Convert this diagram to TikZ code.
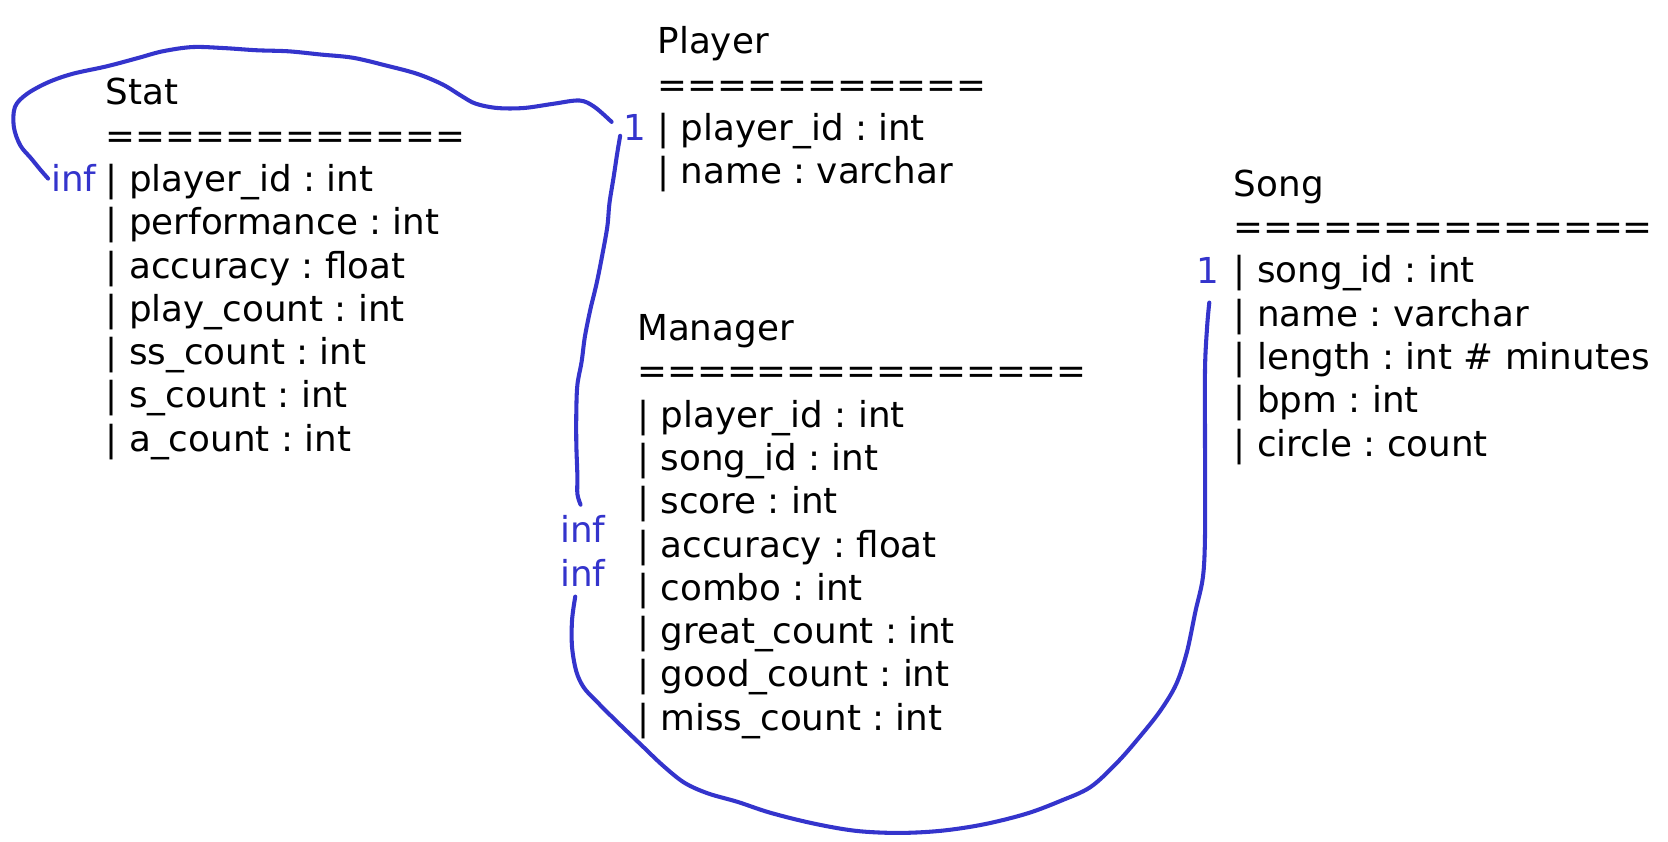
\documentclass[tikz,border=0pt]{standalone}
\usepackage{fontspec}
\setmainfont{DejaVu Sans}
\definecolor{linkblue}{RGB}{52,52,204}
\begin{document}
\begin{tikzpicture}[x=0.5pt,y=-0.5pt,
  tbl/.style={anchor=base west,inner sep=0pt,outer sep=0pt,align=left,
    font=\fontsize{16.7}{20.25}\selectfont\frenchspacing},
  card/.style={anchor=base west,inner sep=0pt,outer sep=0pt,text=linkblue,
    font=\fontsize{16.7}{20.25}\selectfont},
  link/.style={draw=linkblue,line width=1.9pt,line cap=round,line join=round}]
\useasboundingbox (0,0) rectangle (1560,787);

\node[tbl] (stat) at (99,98) {\begin{tabular}[t]{@{}l@{}}
Stat\\
============\\
| player\_id : int\\
| performance : int\\
| accuracy : float\\
| play\_count : int\\
| ss\_count : int\\
| s\_count : int\\
| a\_count : int
\end{tabular}};

\node[tbl] (player) at (615,50.5) {\begin{tabular}[t]{@{}l@{}}
Player\\
===========\\
| player\_id : int\\
| name : varchar
\end{tabular}};

\node[tbl] (song) at (1154,183.5) {\begin{tabular}[t]{@{}l@{}}
Song\\
==============\\
| song\_id : int\\
| name : varchar\\
| length : int \# minutes\\
| bpm : int\\
| circle : count
\end{tabular}};

\node[tbl] (manager) at (596,318.5) {\begin{tabular}[t]{@{}l@{}}
Manager\\
===============\\
| player\_id : int\\
| song\_id : int\\
| score : int\\
| accuracy : float\\
| combo : int\\
| great\_count : int\\
| good\_count : int\\
| miss\_count : int
\end{tabular}};

\node[card] (statinf) at (48,179) {inf};
\node[card] (player1) at (583,131.5) {1};
\node[card] (song1) at (1119,265) {1};
\node[card] (maninfa) at (524,507.5) {inf};
\node[card] (maninfb) at (524,548.5) {inf};

\draw[link] plot[smooth,tension=0.55] coordinates {
  ([shift={(-3,-12)}]statinf.base west) (38,159) (29,148) (19,136) (13,119) (14,100)
  (25,88) (45,77) (68,69) (100,62) (130,54) (152,48) (180,44) (210,45)
  (240,47) (270,48) (300,51) (330,54) (360,61) (390,69) (414,79) (432,90)
  (445,97) (465,101) (490,101) (518,97) (542,94) (556,100) (572,114)};

\draw[link] plot[smooth,tension=0.55] coordinates {
  (580,127) (577,145) (574,165) (570,190) (568,212) (563,240) (558,265)
  (552,290) (547,315) (544,338) (540,360) (539,385) (539,415) (540,445)
  (540,462) (543,472)};

\draw[link] plot[smooth,tension=0.55] coordinates {
  (538,558) (535,580) (535,605) (539,628) (546,643) (557,655) (576,674)
  (600,697) (620,716) (640,732) (662,742) (690,750) (720,760) (760,770)
  (800,777) (840,779) (880,777) (920,771) (960,761) (992,749) (1020,736)
  (1045,713) (1066,689) (1085,665) (1100,640) (1110,610) (1118,572)
  (1125,540) (1127,500) (1127,420) (1127,345) (1129,305) (1131,283)};
\end{tikzpicture}
\end{document}
